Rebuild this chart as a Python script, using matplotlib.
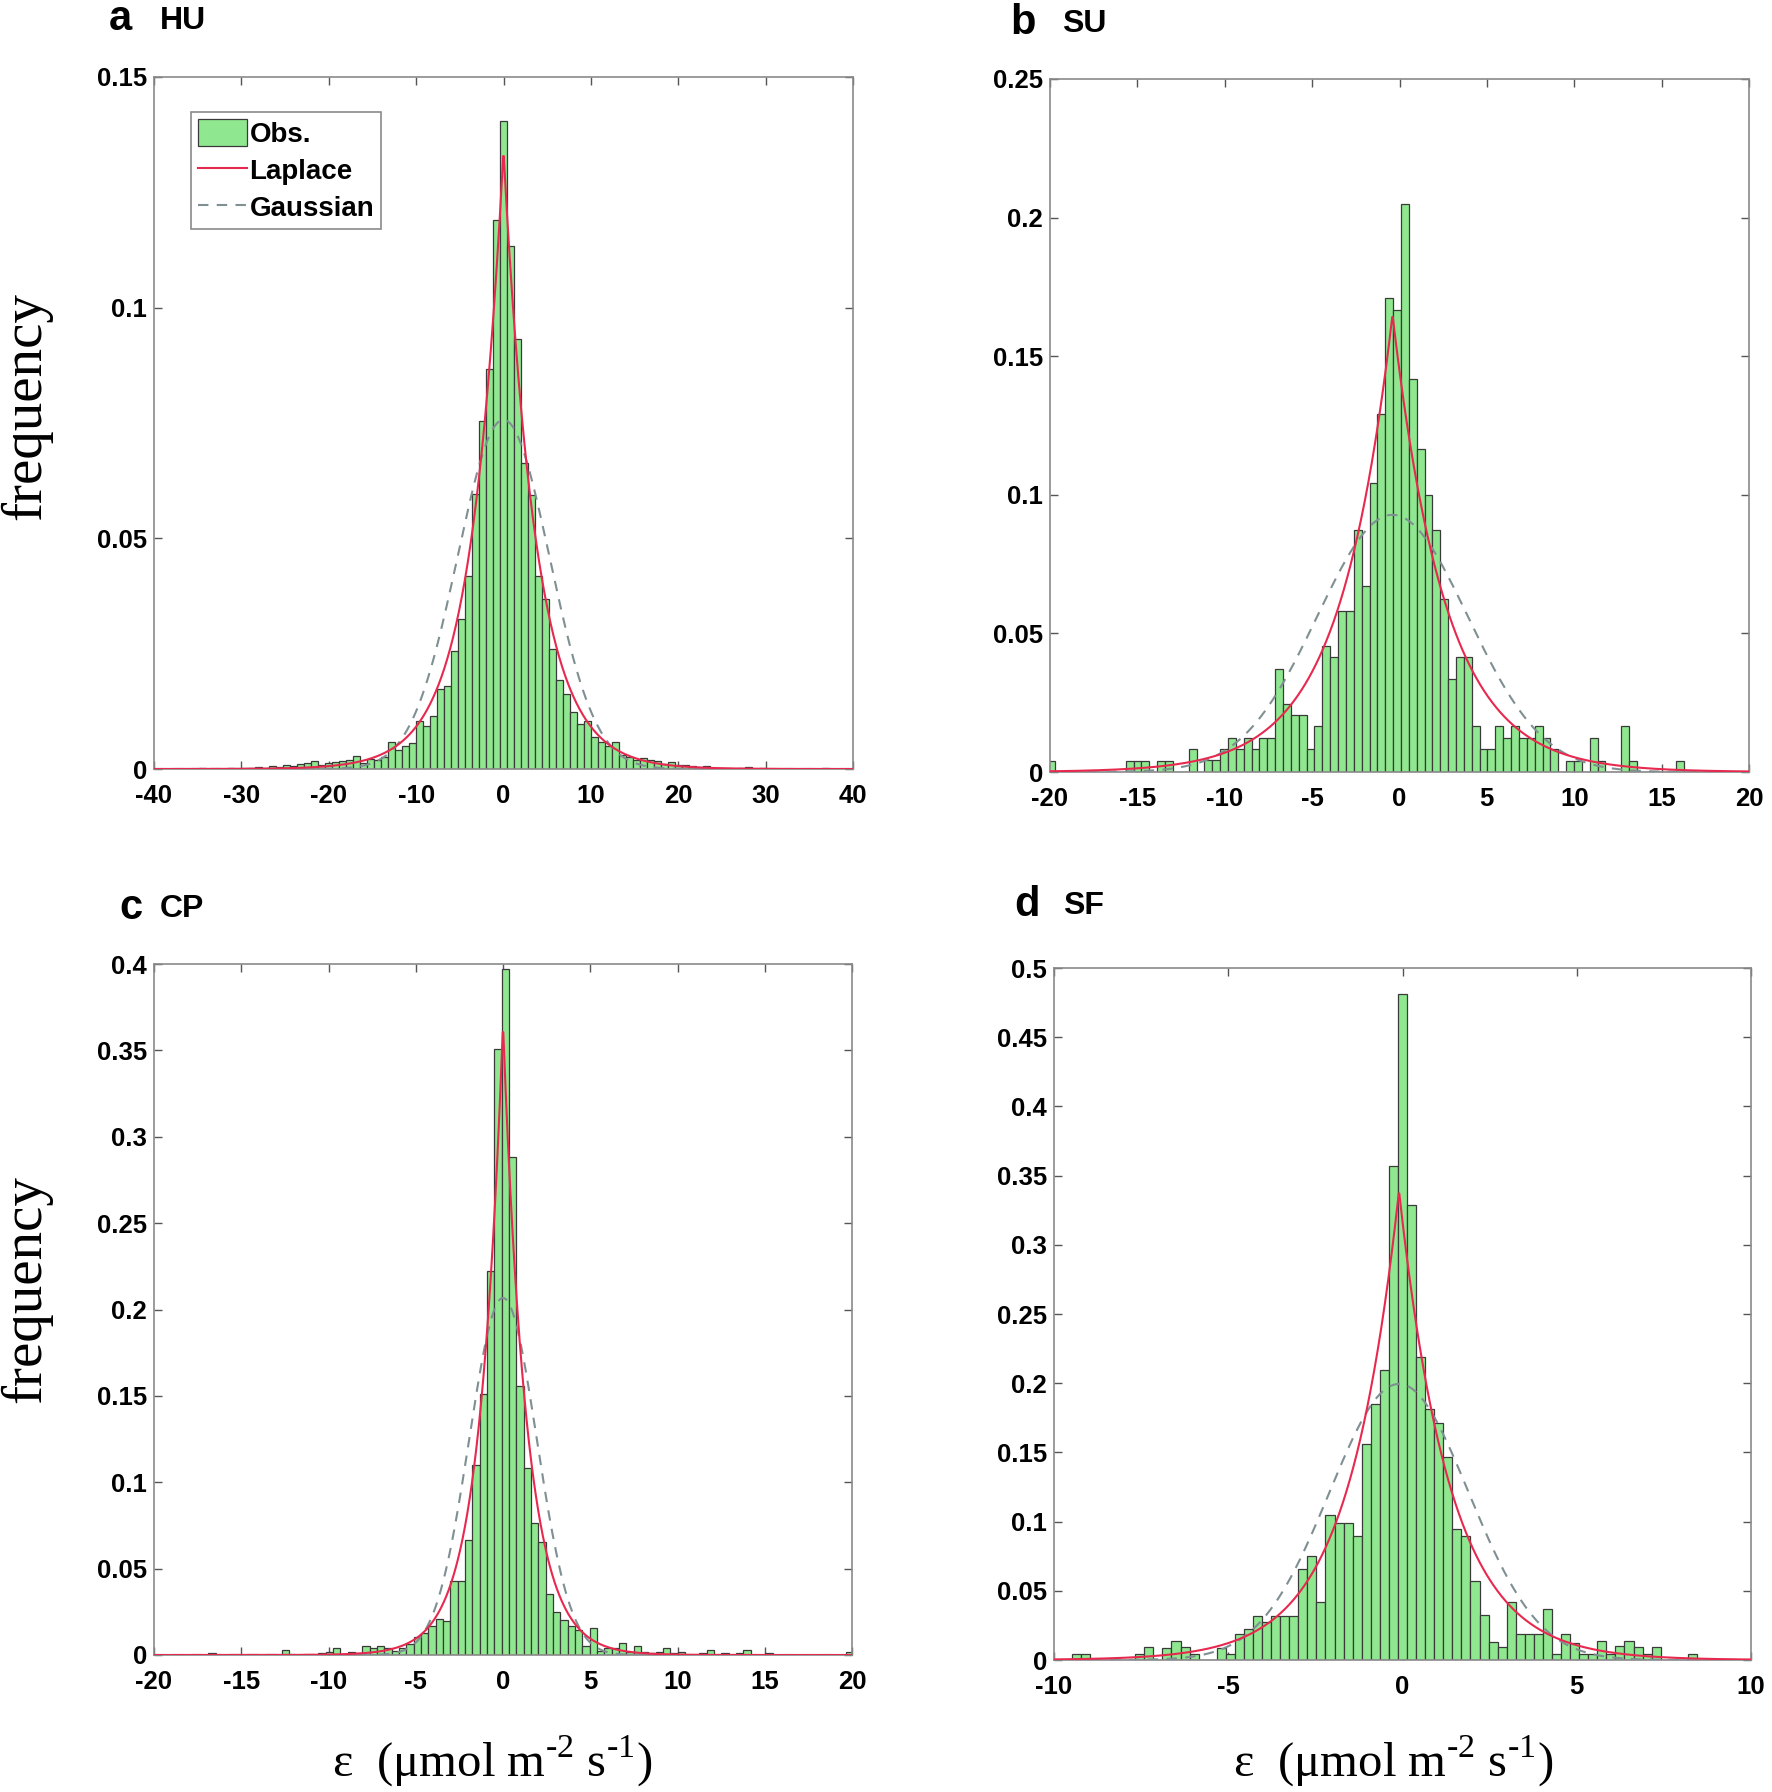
import numpy as np
import matplotlib
matplotlib.use("Agg")
import matplotlib.pyplot as plt
from matplotlib.patches import Patch
from matplotlib.lines import Line2D
from matplotlib.ticker import FuncFormatter

# ---- data ----
panel_letters = ["a", "b", "c", "d"]
site_names = ["HU", "SU", "CP", "SF"]

# HU: bin width 0.8, first bin centre -36
hu_binw = 0.8
hu_first = -36.0
hu_freq = [0.0001, 0.0, 0.0002, 0.0, 0.0001, 0.0001, 0.0002, 0.0001, 0.0003, 0.0002,
           0.0004, 0.0003, 0.0006, 0.0005, 0.0008, 0.0007, 0.0010, 0.0012, 0.0018, 0.0009,
           0.0012, 0.0015, 0.0017, 0.0020, 0.0028, 0.0013, 0.0022, 0.0020, 0.0026,
           0.0058, 0.0042, 0.0049, 0.0056, 0.0103, 0.0094, 0.0115, 0.0174, 0.0179, 0.0256,
           0.0326, 0.0418, 0.0597, 0.0755, 0.0867, 0.1191, 0.1405, 0.1134, 0.0932, 0.0663,
           0.0595, 0.0418, 0.0368, 0.0261, 0.0193, 0.0162, 0.0124, 0.0097, 0.0105, 0.0069,
           0.0058, 0.0050, 0.0058,
           0.0031, 0.0026, 0.0020, 0.0023, 0.0020, 0.0018, 0.0010, 0.0015, 0.0008, 0.0009,
           0.0006, 0.0004, 0.0006, 0.0003, 0.0002, 0.0003, 0.0001, 0.0002, 0.0004, 0.0001,
           0.0002, 0.0, 0.0001, 0.0001, 0.0, 0.0, 0.0001, 0.0, 0.0001, 0.0002, 0.0, 0.0001]

# SU: bin width 0.45, first bin centre -19.94
su_binw = 0.45
su_first = -19.94
su_freq = [0.004, 0, 0, 0, 0, 0, 0, 0, 0, 0,
           0.004, 0.004, 0.004, 0, 0.004, 0.004, 0, 0, 0.0082, 0,
           0.0042, 0.0042, 0.0082, 0.0123, 0.0082, 0.0123, 0.0082, 0.0123, 0.0123, 0.0373,
           0.0247, 0.0207, 0.0207, 0.0082, 0.0166, 0.0455, 0.0415, 0.0581, 0.0581, 0.0874,
           0.0670, 0.1043, 0.1293, 0.171, 0.1665, 0.205, 0.1419, 0.1164, 0.1000, 0.0874,
           0.0625, 0.0337, 0.0415, 0.0415, 0.0166, 0.0082, 0.0082, 0.0166, 0.0123, 0.0166,
           0.0123, 0.0123, 0.0166, 0.0123, 0.0082, 0, 0.004, 0.004, 0, 0.0123,
           0.004, 0, 0, 0.0166, 0.004, 0, 0, 0, 0, 0, 0.004]

# CP: bin width 0.42, first bin centre -16.67
cp_binw = 0.42
cp_first = -16.67
cp_freq = [0.001, 0, 0, 0, 0, 0, 0, 0, 0, 0,
           0.003, 0, 0, 0, 0, 0.001, 0.002, 0.004, 0, 0.002,
           0.001, 0.005, 0.004, 0.005, 0.004, 0.0026, 0.0039, 0.0065, 0.0105, 0.013,
           0.017, 0.0209, 0.0196, 0.0431, 0.0426, 0.0667, 0.1098, 0.1511, 0.2222, 0.351,
           0.397, 0.288, 0.156, 0.108, 0.0766, 0.0654, 0.0353, 0.0248, 0.0201, 0.017,
           0.0144, 0.0052, 0.0157, 0.0026, 0.0039, 0.004, 0.007, 0.002, 0.005, 0.002,
           0.001, 0.002, 0.004, 0.001, 0.002, 0, 0, 0.001, 0.003, 0,
           0.001, 0, 0.001, 0.003, 0, 0, 0.001, 0, 0, 0,
           0, 0, 0, 0, 0, 0, 0, 0.002]

# SF: bin width 0.26, first bin centre -9.36
sf_binw = 0.26
sf_first = -9.36
sf_freq = [0.0044, 0.0044, 0, 0, 0, 0, 0, 0.0044, 0.0096, 0,
           0.0085, 0.0137, 0.0096, 0.0044, 0, 0, 0.0087, 0.004, 0.0185, 0.0226,
           0.0318, 0.0272, 0.0318, 0.0318, 0.0318, 0.0658, 0.0751, 0.042, 0.1045, 0.0989,
           0.0989, 0.0896, 0.1564, 0.1849, 0.2096, 0.357, 0.481, 0.3286, 0.2189, 0.1811,
           0.171, 0.1468, 0.0946, 0.0896, 0.0572, 0.0325, 0.0133, 0.0093, 0.042, 0.0185,
           0.0185, 0.0185, 0.0371, 0.0044, 0.0188, 0.012, 0.0044, 0.0044, 0.0137, 0.0044,
           0.01, 0.0137, 0.0096, 0.0044, 0.0096, 0, 0, 0, 0.0044]

# fitted distributions (location, scale)
laplace_mu = [0.0, -0.4, 0.0, -0.1]
laplace_b = [3.73, 3.03, 1.37, 1.475]
gauss_mu = [0.0, -0.4, 0.0, -0.1]
gauss_sigma = [5.27, 4.3, 1.93, 2.0]

x_limits = [(-40, 40), (-20, 20), (-20, 20), (-10, 10)]
x_steps = [10, 5, 5, 5]
y_tops = [0.15, 0.25, 0.4, 0.5]
y_steps = [0.05, 0.05, 0.05, 0.05]

hist_data = [(hu_first, hu_binw, hu_freq), (su_first, su_binw, su_freq),
             (cp_first, cp_binw, cp_freq), (sf_first, sf_binw, sf_freq)]

# ---- layout (pixels of the 1772x1792 canvas) ----
W, H = 1772, 1792
axes_px = [(154, 77, 853, 769), (1050, 79, 1749, 772),
           (154, 964, 852, 1655), (1054, 968, 1751, 1660)]
letter_px = [(120, 19), (1023, 23), (131, 908), (1027, 905)]
site_px = [(160, 21), (1062, 24), (160, 909), (1063, 906)]

BAR_COLOR = "#8fe88f"
LAP_COLOR = "#e8294f"
GAU_COLOR = "#7f8f92"
SANS = ["Liberation Sans", "DejaVu Sans"]
SERIF = ["Liberation Serif", "DejaVu Serif"]

plt.rcParams["mathtext.fontset"] = "custom"
plt.rcParams["mathtext.rm"] = "Liberation Serif"


def tick_fmt(v, pos):
    return "%g" % round(v, 4)


def draw_panel(fig, i):
    x0, y0, x1, y1 = axes_px[i]
    ax = fig.add_axes([x0 / W, 1 - y1 / H, (x1 - x0) / W, (y1 - y0) / H])

    first, binw, freq = hist_data[i]
    centers = first + binw * np.arange(len(freq))
    ax.bar(centers, freq, width=binw, color=BAR_COLOR, edgecolor="#3a3a3a",
           linewidth=0.9, zorder=2)

    lo, hi = x_limits[i]
    xs = np.linspace(lo, hi, 1200)
    lap = np.exp(-np.abs(xs - laplace_mu[i]) / laplace_b[i]) / (2 * laplace_b[i])
    gau = np.exp(-(xs - gauss_mu[i]) ** 2 / (2 * gauss_sigma[i] ** 2)) / (gauss_sigma[i] * np.sqrt(2 * np.pi))
    ax.plot(xs, lap, color=LAP_COLOR, lw=1.5, zorder=4)
    ax.plot(xs, gau, color=GAU_COLOR, lw=1.5, ls=(0, (5, 4)), zorder=3)

    ax.set_xlim(lo, hi)
    ax.set_ylim(0, y_tops[i])
    ax.set_xticks(np.arange(lo, hi + 0.01, x_steps[i]))
    ax.set_yticks(np.arange(0, y_tops[i] + 1e-9, y_steps[i]))
    ax.xaxis.set_major_formatter(FuncFormatter(tick_fmt))
    ax.yaxis.set_major_formatter(FuncFormatter(tick_fmt))

    for s in ax.spines.values():
        s.set_color("#8a8a8a")
        s.set_linewidth(1.2)
    ax.tick_params(direction="in", length=6, width=1, color="#555555",
                   top=True, right=True, labelsize=18.5)
    ax.tick_params(axis="x", pad=11)
    ax.tick_params(axis="y", pad=5)
    for lab in ax.get_xticklabels() + ax.get_yticklabels():
        lab.set_fontfamily(SANS)
        lab.set_fontweight("bold")

    lx, ly = letter_px[i]
    fig.text(lx / W, 1 - ly / H, panel_letters[i], fontsize=30, fontweight="bold",
             family=SANS, ha="center", va="center")
    sx, sy = site_px[i]
    fig.text(sx / W, 1 - sy / H, site_names[i], fontsize=23, fontweight="bold",
             family=SANS, ha="left", va="center")
    return ax


fig = plt.figure(figsize=(W / 100, H / 100), dpi=100)
axes = [draw_panel(fig, i) for i in range(4)]

handles = [Patch(facecolor=BAR_COLOR, edgecolor="#3a3a3a", linewidth=0.9),
           Line2D([], [], color=LAP_COLOR, lw=1.5),
           Line2D([], [], color=GAU_COLOR, lw=1.5, ls=(0, (5, 4)))]
leg = axes[0].legend(handles, ["Obs.", "Laplace", "Gaussian"], loc="upper left",
                     bbox_to_anchor=(0.053, 0.949), borderaxespad=0, fancybox=False,
                     framealpha=1, edgecolor="#8a8a8a", handlelength=1.75,
                     handleheight=1.1, handletextpad=0.1, borderpad=0.25,
                     labelspacing=0.3, prop={"family": SANS, "weight": "bold", "size": 20})
leg.get_frame().set_linewidth(1.2)

# axis titles
for yc in (406, 1289):
    fig.text(26 / W, 1 - yc / H, "frequency", rotation=90, fontsize=41,
             family=SERIF, ha="center", va="center")
for xc in (492, 1393):
    fig.text(xc / W, 1 - 1761 / H, r"ε  (μmol m$^{\text{-2}}$ s$^{\text{-1}}$)",
             fontsize=35, family=SERIF, ha="center", va="center")

fig.savefig("out.png", dpi=100)
